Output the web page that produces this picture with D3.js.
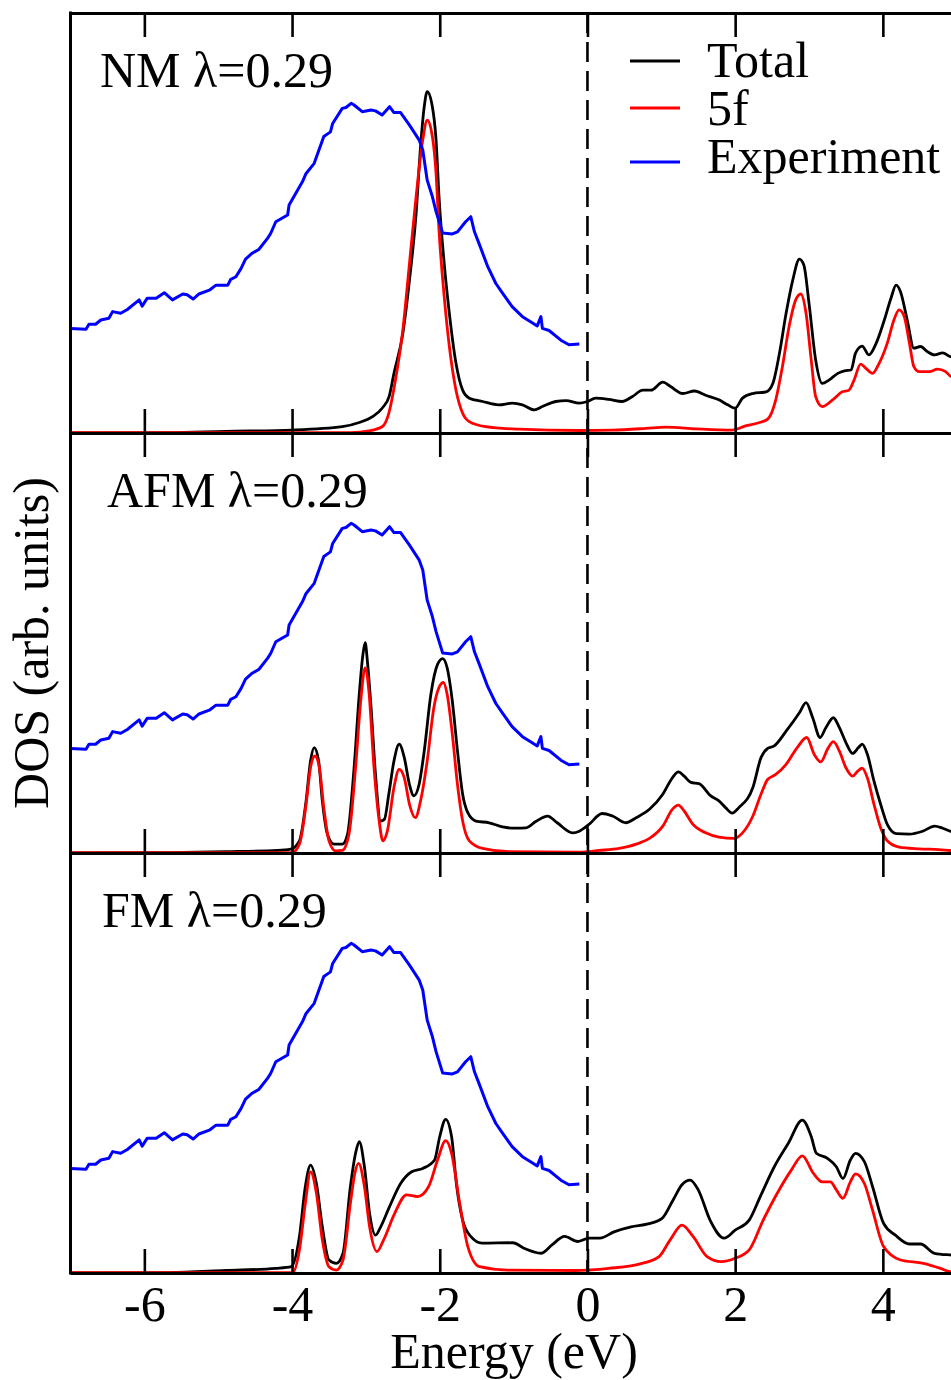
<!DOCTYPE html>
<html><head><meta charset="utf-8">
<script src="https://cdn.jsdelivr.net/npm/d3@7"></script>
<style>body{margin:0;background:#fff}svg text{font-family:"Liberation Serif","Times New Roman",Times,serif;fill:#000}</style>
</head><body>
<svg id="c" width="951" height="1380"></svg>
<script>
// ---------------- data ----------------
const energyTicks = [-6, -4, -2, 0, 2, 4];
const tickLabels = ["-6", "-4", "-2", "0", "2", "4"];
const panelLabels = ["NM \u03bb=0.29", "AFM \u03bb=0.29", "FM \u03bb=0.29"];
const legendLabels = ["Total", "5f", "Experiment"];
const seriesColors = ["#000000", "#ff0000", "#0000ff"];

// experiment (same curve in every panel), [energy eV, DOS arb.]
const experiment = [[-7.0,2.49],[-6.79,2.47],[-6.75,2.59],[-6.66,2.59],[-6.59,2.69],[-6.48,2.73],[-6.43,2.89],[-6.32,2.85],[-6.23,2.94],[-6.07,3.17],[-6.03,3.02],[-5.96,3.21],[-5.84,3.21],[-5.73,3.34],[-5.62,3.17],[-5.48,3.31],[-5.42,3.29],[-5.34,3.19],[-5.26,3.31],[-5.12,3.40],[-5.03,3.52],[-4.87,3.52],[-4.83,3.66],[-4.76,3.72],[-4.69,3.92],[-4.63,4.14],[-4.54,4.28],[-4.45,4.37],[-4.33,4.64],[-4.29,4.75],[-4.22,5.03],[-4.06,5.19],[-4.04,5.43],[-3.86,5.98],[-3.81,6.18],[-3.70,6.42],[-3.57,7.06],[-3.48,7.17],[-3.45,7.37],[-3.32,7.73],[-3.27,7.75],[-3.20,7.85],[-3.16,7.81],[-3.05,7.65],[-2.93,7.69],[-2.87,7.67],[-2.78,7.57],[-2.68,7.77],[-2.62,7.63],[-2.53,7.63],[-2.41,7.33],[-2.28,6.98],[-2.23,6.74],[-2.17,6.02],[-2.10,5.63],[-2.05,5.27],[-1.96,4.76],[-1.83,4.74],[-1.76,4.79],[-1.65,5.03],[-1.58,5.15],[-1.53,4.79],[-1.47,4.52],[-1.35,3.96],[-1.24,3.56],[-1.15,3.33],[-1.02,3.01],[-0.88,2.77],[-0.77,2.65],[-0.68,2.55],[-0.63,2.77],[-0.61,2.49],[-0.52,2.44],[-0.36,2.21],[-0.25,2.10],[-0.11,2.12]];

const nmTotal = [[-7,0.0],[-5.66,0.01],[-4.9,0.04],[-4.0,0.07],[-3.32,0.15],[-3.09,0.25],[-2.91,0.39],[-2.78,0.59],[-2.685,0.87],[-2.62,1.42],[-2.50,2.37],[-2.41,3.64],[-2.32,5.23],[-2.26,6.82],[-2.21,7.77],[-2.17,8.13],[-2.10,7.77],[-2.05,6.98],[-2.01,5.63],[-1.94,4.04],[-1.87,2.85],[-1.78,1.66],[-1.69,1.02],[-1.60,0.83],[-1.42,0.75],[-1.20,0.67],[-1.02,0.71],[-0.88,0.67],[-0.72,0.55],[-0.61,0.63],[-0.43,0.75],[-0.29,0.77],[-0.11,0.71],[0.0,0.75],[0.11,0.83],[0.29,0.80],[0.47,0.75],[0.61,0.87],[0.75,1.02],[0.86,1.02],[1.02,1.21],[1.13,1.10],[1.29,0.94],[1.45,1.00],[1.60,0.90],[1.78,0.79],[1.90,0.67],[2.00,0.59],[2.10,0.83],[2.24,0.94],[2.42,0.98],[2.51,1.18],[2.60,1.90],[2.69,2.85],[2.78,3.64],[2.87,4.14],[2.93,4.00],[3.00,3.09],[3.09,1.74],[3.18,1.18],[3.27,1.26],[3.39,1.42],[3.48,1.48],[3.57,1.50],[3.63,1.90],[3.72,2.07],[3.81,1.86],[3.91,2.14],[4.02,2.69],[4.11,3.21],[4.18,3.52],[4.24,3.36],[4.33,2.69],[4.42,2.02],[4.51,2.06],[4.60,1.94],[4.70,1.86],[4.81,1.91],[4.91,1.82],[5.0,1.78]];
const nm5f = [[-7,0.01],[-3.2,0.01],[-2.96,0.05],[-2.78,0.15],[-2.69,0.47],[-2.60,1.26],[-2.50,2.45],[-2.41,4.04],[-2.32,5.63],[-2.23,6.98],[-2.17,7.45],[-2.10,7.06],[-2.05,6.18],[-2.01,4.83],[-1.94,3.25],[-1.87,2.06],[-1.78,1.02],[-1.69,0.47],[-1.60,0.27],[-1.38,0.15],[-0.93,0.09],[-0.11,0.06],[0.34,0.07],[0.79,0.11],[1.06,0.14],[1.47,0.10],[1.96,0.07],[2.14,0.17],[2.33,0.25],[2.44,0.33],[2.55,0.79],[2.64,1.58],[2.73,2.53],[2.82,3.17],[2.89,3.31],[2.96,2.85],[3.03,1.74],[3.09,0.87],[3.18,0.63],[3.32,0.79],[3.45,0.98],[3.54,1.02],[3.61,1.26],[3.70,1.64],[3.77,1.54],[3.86,1.42],[3.95,1.66],[4.06,2.14],[4.15,2.69],[4.22,2.93],[4.29,2.77],[4.36,2.14],[4.42,1.58],[4.49,1.46],[4.63,1.46],[4.74,1.52],[4.85,1.46],[4.91,1.36],[5.0,1.30]];

const afmTotal = [[-7,0.0],[-5.66,0.01],[-4.9,0.03],[-4.2,0.06],[-4.02,0.09],[-3.90,0.29],[-3.81,1.24],[-3.75,2.19],[-3.70,2.51],[-3.64,2.19],[-3.59,1.24],[-3.52,0.44],[-3.43,0.21],[-3.32,0.21],[-3.25,0.44],[-3.16,2.03],[-3.09,3.78],[-3.04,4.73],[-3.01,5.01],[-2.98,4.57],[-2.93,3.46],[-2.87,1.87],[-2.80,0.76],[-2.75,0.80],[-2.69,1.40],[-2.62,2.19],[-2.55,2.59],[-2.48,2.27],[-2.41,1.63],[-2.35,1.36],[-2.28,1.63],[-2.21,2.43],[-2.12,3.78],[-2.03,4.49],[-1.96,4.63],[-1.90,4.41],[-1.83,3.62],[-1.76,2.43],[-1.69,1.40],[-1.62,0.96],[-1.51,0.76],[-1.33,0.72],[-1.15,0.62],[-0.97,0.59],[-0.83,0.60],[-0.70,0.75],[-0.54,0.88],[-0.41,0.72],[-0.20,0.48],[-0.11,0.52],[-0.04,0.60],[0.02,0.68],[0.20,0.94],[0.34,0.88],[0.52,0.72],[0.66,0.84],[0.84,1.04],[1.02,1.40],[1.15,1.79],[1.23,1.93],[1.31,1.83],[1.40,1.68],[1.51,1.65],[1.67,1.36],[1.78,1.24],[1.87,1.08],[1.96,0.95],[2.05,1.08],[2.24,1.56],[2.35,2.27],[2.44,2.49],[2.53,2.55],[2.69,2.90],[2.87,3.34],[2.96,3.58],[3.05,3.22],[3.15,2.75],[3.23,2.99],[3.33,3.22],[3.41,2.99],[3.50,2.63],[3.59,2.37],[3.67,2.51],[3.72,2.59],[3.79,2.35],[3.88,1.71],[3.97,1.16],[4.06,0.68],[4.18,0.46],[4.36,0.45],[4.54,0.52],[4.70,0.64],[4.81,0.59],[4.91,0.52],[5.0,0.50]];
const afm5f = [[-7,0.01],[-4.0,0.01],[-3.90,0.21],[-3.81,1.16],[-3.75,2.03],[-3.69,2.31],[-3.63,2.03],[-3.57,1.08],[-3.50,0.29],[-3.41,0.05],[-3.32,0.06],[-3.23,0.44],[-3.14,2.03],[-3.07,3.62],[-3.01,4.41],[-2.96,3.86],[-2.89,2.03],[-2.82,0.76],[-2.77,0.29],[-2.71,0.52],[-2.62,1.56],[-2.55,1.99],[-2.48,1.79],[-2.41,1.16],[-2.33,0.84],[-2.26,1.24],[-2.17,2.19],[-2.08,3.46],[-2.01,3.94],[-1.95,4.06],[-1.90,3.78],[-1.83,2.83],[-1.76,1.63],[-1.69,0.76],[-1.60,0.29],[-1.42,0.11],[-1.06,0.03],[-0.11,0.02],[0.16,0.06],[0.43,0.11],[0.66,0.21],[0.86,0.37],[1.02,0.64],[1.15,1.04],[1.23,1.14],[1.31,1.00],[1.42,0.70],[1.60,0.48],[1.78,0.38],[1.99,0.35],[2.10,0.48],[2.24,0.88],[2.35,1.40],[2.44,1.75],[2.55,1.87],[2.69,2.11],[2.84,2.51],[2.97,2.75],[3.07,2.35],[3.16,2.17],[3.25,2.47],[3.33,2.65],[3.41,2.43],[3.50,2.03],[3.59,1.83],[3.66,1.95],[3.72,2.02],[3.79,1.79],[3.88,1.16],[3.97,0.60],[4.06,0.29],[4.22,0.14],[4.49,0.10],[4.76,0.08],[4.91,0.06],[5.0,0.05]];

const fmTotal = [[-7,0.0],[-5.66,0.01],[-4.9,0.06],[-4.22,0.11],[-4.01,0.15],[-3.90,0.87],[-3.82,2.06],[-3.75,2.57],[-3.67,2.13],[-3.59,1.10],[-3.50,0.31],[-3.40,0.23],[-3.31,0.47],[-3.21,2.06],[-3.14,2.85],[-3.09,3.13],[-3.02,2.53],[-2.95,1.42],[-2.87,0.90],[-2.80,1.10],[-2.68,1.58],[-2.53,2.13],[-2.38,2.41],[-2.23,2.49],[-2.07,2.69],[-2.00,3.25],[-1.92,3.66],[-1.84,3.25],[-1.77,2.06],[-1.69,1.26],[-1.58,0.87],[-1.43,0.71],[-1.01,0.72],[-0.86,0.59],[-0.63,0.47],[-0.48,0.67],[-0.31,0.87],[-0.13,0.75],[0.02,0.83],[0.17,0.83],[0.36,0.98],[0.59,1.10],[0.82,1.17],[1.01,1.30],[1.16,1.74],[1.28,2.10],[1.39,2.21],[1.50,1.98],[1.66,1.26],[1.85,0.83],[2.00,1.02],[2.19,1.26],[2.34,1.82],[2.53,2.53],[2.72,3.09],[2.91,3.64],[3.03,3.25],[3.10,2.85],[3.25,2.73],[3.37,2.53],[3.46,2.25],[3.56,2.69],[3.63,2.85],[3.75,2.65],[3.86,2.06],[4.01,1.18],[4.17,0.90],[4.36,0.69],[4.51,0.69],[4.70,0.47],[4.91,0.43],[5.0,0.42]];
const fm5f = [[-7,0.01],[-3.99,0.01],[-3.90,0.55],[-3.82,1.66],[-3.75,2.41],[-3.67,1.90],[-3.59,0.79],[-3.50,0.15],[-3.40,0.07],[-3.31,0.31],[-3.21,1.66],[-3.15,2.37],[-3.10,2.61],[-3.02,2.06],[-2.95,1.10],[-2.85,0.51],[-2.76,0.79],[-2.61,1.42],[-2.45,1.86],[-2.30,1.82],[-2.15,2.06],[-2.03,2.69],[-1.92,3.15],[-1.84,2.85],[-1.73,1.66],[-1.62,0.63],[-1.46,0.15],[-1.08,0.07],[-0.17,0.06],[0.29,0.11],[0.74,0.23],[0.97,0.39],[1.12,0.79],[1.28,1.14],[1.43,0.87],[1.62,0.39],[1.81,0.27],[2.00,0.35],[2.19,0.55],[2.38,1.26],[2.57,1.90],[2.76,2.45],[2.91,2.79],[3.06,2.37],[3.18,2.17],[3.29,2.17],[3.37,1.98],[3.46,1.78],[3.56,2.17],[3.63,2.36],[3.75,2.13],[3.86,1.50],[4.01,0.63],[4.24,0.31],[4.55,0.23],[4.78,0.11],[4.91,0.03],[5.0,0.02]];

// ---------------- drawing ----------------
const svg = d3.select("#c");
const FONT = 50;
const left = 70.5, plotTop = 13, panelH = 420;
const x = d3.scaleLinear().domain([-7, 5]).range([left, left + 12 * 73.85]);

const panels = [
  {label: panelLabels[0], total: nmTotal, f5: nm5f, lx: 100},
  {label: panelLabels[1], total: afmTotal, f5: afm5f, lx: 107},
  {label: panelLabels[2], total: fmTotal, f5: fm5f, lx: 102}
];

const smooth = d3.curveMonotoneX;

panels.forEach((p, i) => {
  const top = plotTop + i * panelH, bottom = top + panelH;
  const y = d3.scaleLinear().domain([0, 10]).range([bottom, top]);
  const g = svg.append("g");
  const lineS = d3.line().x(d => x(d[0])).y(d => y(d[1])).curve(smooth);
  const lineL = d3.line().x(d => x(d[0])).y(d => y(d[1]));
  g.append("path").datum(p.total).attr("d", lineS).attr("fill", "none")
    .attr("stroke", seriesColors[0]).attr("stroke-width", 2.8).attr("stroke-linejoin", "round");
  g.append("path").datum(p.f5).attr("d", lineS).attr("fill", "none")
    .attr("stroke", seriesColors[1]).attr("stroke-width", 2.8).attr("stroke-linejoin", "round");
  g.append("path").datum(experiment).attr("d", lineL).attr("fill", "none")
    .attr("stroke", seriesColors[2]).attr("stroke-width", 3).attr("stroke-linejoin", "round");

  const ab = svg.append("g").attr("transform", `translate(0,${bottom})`)
    .call(d3.axisBottom(x).tickValues(energyTicks).tickSize(-24).tickSizeOuter(0).tickFormat(""));
  const at = svg.append("g").attr("transform", `translate(0,${top})`)
    .call(d3.axisTop(x).tickValues(energyTicks).tickSize(-24).tickSizeOuter(0).tickFormat(""));
  [ab, at].forEach(a => {
    a.select(".domain").attr("stroke", "#000").attr("stroke-width", 3);
    a.selectAll(".tick line").attr("stroke", "#000").attr("stroke-width", 2.6);
  });

  svg.append("text").attr("x", p.lx).attr("y", top + 74)
    .attr("font-size", FONT).text(p.label);
});

svg.append("line").attr("x1", left).attr("x2", left).attr("y1", plotTop - 1.5).attr("y2", plotTop + 3 * panelH + 1.5)
  .attr("stroke", "#000").attr("stroke-width", 3);

svg.append("line").attr("x1", x(0)).attr("x2", x(0)).attr("y1", plotTop).attr("y2", plotTop + 3 * panelH)
  .attr("stroke", "#000").attr("stroke-width", 2.6).attr("stroke-dasharray", "20,9");

const lab = svg.append("g").attr("transform", `translate(0,${plotTop + 3 * panelH})`)
  .call(d3.axisBottom(x).tickValues(energyTicks).tickSize(0).tickPadding(12)
    .tickFormat((d, i) => tickLabels[i]));
lab.select(".domain").remove();
lab.selectAll("text").attr("font-size", FONT).attr("font-family", '"Liberation Serif","Times New Roman",serif');

svg.append("text").attr("x", 514).attr("y", 1368).attr("text-anchor", "middle")
  .attr("font-size", FONT).text("Energy (eV)");
svg.append("text").attr("transform", "translate(48,643) rotate(-90)").attr("text-anchor", "middle")
  .attr("font-size", FONT).text("DOS (arb. units)");

const legY = [61, 108, 162], legTextY = [77, 125, 173];
legendLabels.forEach((l, i) => {
  svg.append("line").attr("x1", 630).attr("x2", 680).attr("y1", legY[i]).attr("y2", legY[i])
    .attr("stroke", seriesColors[i]).attr("stroke-width", 3);
  svg.append("text").attr("x", 707).attr("y", legTextY[i]).attr("font-size", FONT).text(l);
});
</script>
</body></html>
